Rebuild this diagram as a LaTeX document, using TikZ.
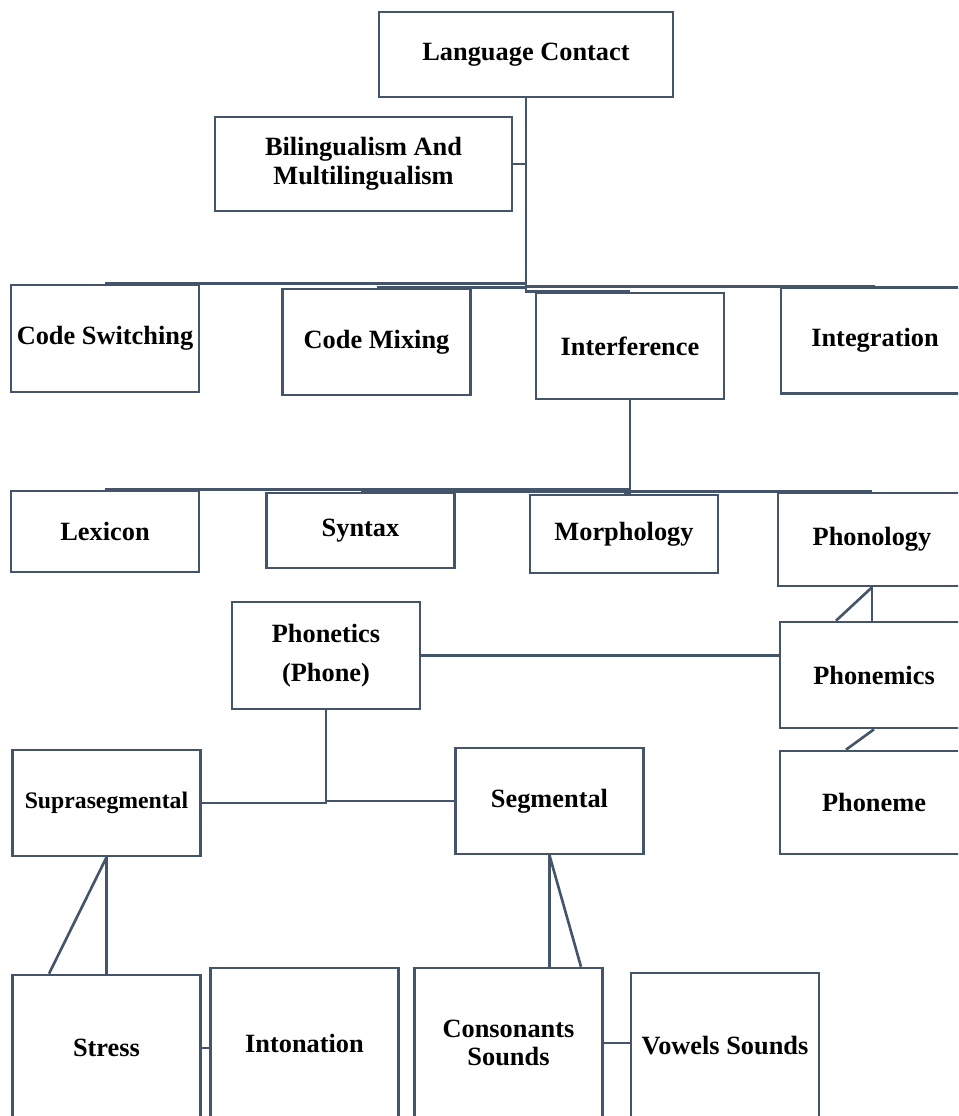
\documentclass[tikz,border=0pt]{standalone}
\usepackage{fontspec}
\setmainfont{Liberation Serif}
\usepackage{xcolor}
\definecolor{boxline}{HTML}{44546A}

\begin{document}
\begin{tikzpicture}[x=0.02cm, y=-0.02cm,
    box/.style={draw=boxline, line width=1.5pt, inner sep=0pt,
      minimum width=3.76cm, minimum height=2.12cm, align=center,
      font=\bfseries\fontsize{15}{17}\selectfont},
    tall/.style={box, minimum height=2.96cm},
    link/.style={draw=boxline, line width=1.5pt}]
  \useasboundingbox (0,0) rectangle (958,1116);
  \clip (0,0) rectangle (958,1116);

  % Top
  \node[box, minimum width=5.88cm, minimum height=1.7cm] (contact) at (526, 54.5) {Language Contact};
  \node[box, minimum width=5.94cm, minimum height=1.88cm] (biling) at (363.5, 164) {Bilingualism And\\[-0.5pt]Multilingualism};

  % Second row
  \node[box, minimum height=2.14cm] (codesw) at (105, 338.5) {Code Switching};
  \node[box] (codemix) at (376.5, 342) {Code Mixing};
  \node[box] (interf) at (630, 346) {Interference};
  \node[box] (integr) at (875, 340.5) {Integration};

  % Third row
  \node[box, minimum height=1.62cm] (lexicon) at (105, 531.5) {Lexicon};
  \node[box, minimum height=1.5cm] (syntax) at (360.5, 530.5) {Syntax};
  \node[box, minimum height=1.56cm] (morph) at (624, 534) {Morphology};
  \node[box, minimum height=1.86cm] (phonol) at (872, 539.5) {Phonology};

  % Phonetics and phonemics
  \node[box, minimum height=2.14cm] (phonet) at (326, 655.5) {Phonetics\\[5pt](Phone)};
  \node[box] (phonem) at (874, 675) {Phonemics};
  \node[box, minimum height=2.06cm] (phoneme) at (874, 802.5) {Phoneme};
  \node[box, font=\bfseries\fontsize{13.5}{16}\selectfont] (supra) at (106.5, 803) {Suprasegmental};
  \node[box] (segm) at (549.5, 801) {Segmental};

  % Bottom row
  \node[tall, minimum height=2.92cm] (stress) at (106.5, 1048) {Stress};
  \node[tall, minimum height=3cm] (inton) at (304.5, 1043) {Intonation};
  \node[tall, minimum height=3cm] (conson) at (508.5, 1043) {Consonants\\[-1pt]Sounds};
  \node[tall, minimum height=2.92cm] (vowels) at (725, 1046) {Vowels Sounds};

  % Links from Language Contact
  \draw[link] (biling.east) -- (biling.east -| contact.south);
  \draw[link] (contact.south) |- (codesw.north);
  \draw[link] (contact.south) |- (codemix.north);
  \draw[link] (contact.south) |- (interf.north);
  \draw[link] (contact.south) |- (integr.north);

  % Links from Interference
  \draw[link] (interf.south) |- (lexicon.north);
  \draw[link] (interf.south) |- (syntax.north);
  \draw[link] (interf.south) |- (morph.north);
  \draw[link] (interf.south) |- (phonol.north);

  % Phonology side
  \draw[link] (phonol.south) -- (phonol.south |- phonem.north);
  \draw[link] (phonol.south) -- ([xshift=-0.76cm]phonem.north);
  \draw[link] (phonem.south) -- ([xshift=-0.56cm]phoneme.north);
  \draw[link] (phonet.east) -- (phonet.east -| phonem.west);

  % Phonetics side
  \draw[link] (phonet.south) |- (supra.east);
  \draw[link] (phonet.south) |- (segm.west);
  \draw[link] (supra.south) -- (stress.north);
  \draw[link] (supra.south) -- ([xshift=-1.15cm]stress.north);
  \draw[link] (segm.south) -- (segm.south |- conson.north);
  \draw[link] (segm.south) -- ([xshift=1.45cm]conson.north);
  \draw[link] (stress.east) -- (stress.east -| inton.west);
  \draw[link] (conson.east) -- (conson.east -| vowels.west);
\end{tikzpicture}
\end{document}
